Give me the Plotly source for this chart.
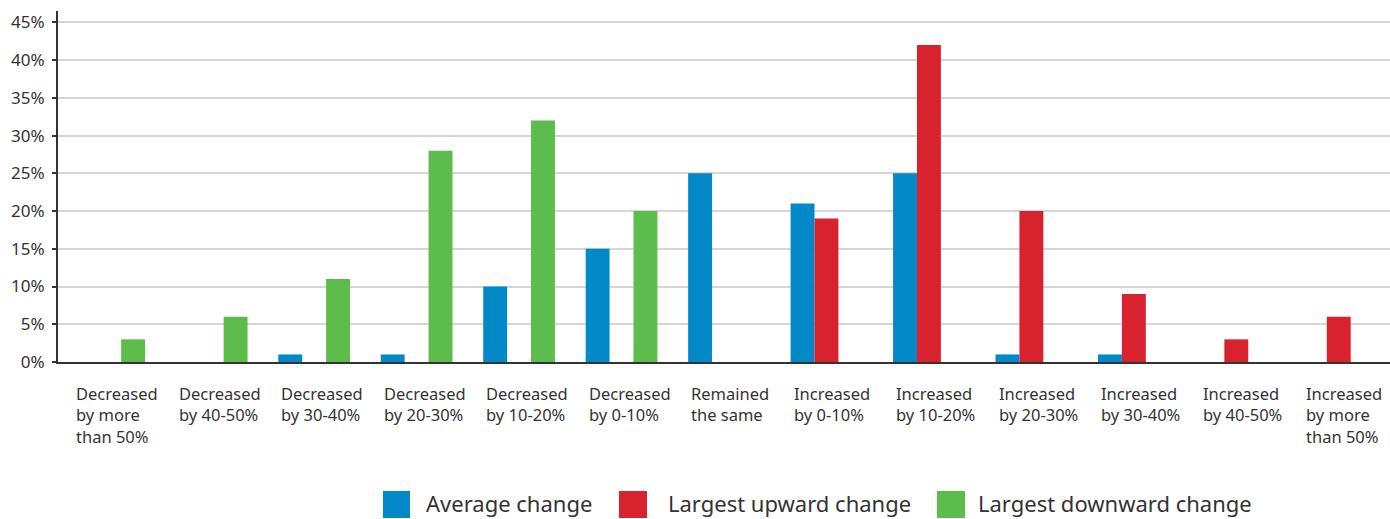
import plotly.graph_objects as go

categories = [
    "Decreased<br>by more<br>than 50%",
    "Decreased<br>by 40-50%",
    "Decreased<br>by 30-40%",
    "Decreased<br>by 20-30%",
    "Decreased<br>by 10-20%",
    "Decreased<br>by 0-10%",
    "Remained<br>the same",
    "Increased<br>by 0-10%",
    "Increased<br>by 10-20%",
    "Increased<br>by 20-30%",
    "Increased<br>by 30-40%",
    "Increased<br>by 40-50%",
    "Increased<br>by more<br>than 50%",
]
average_change = [0, 0, 1, 1, 10, 15, 25, 21, 25, 1, 1, 0, 0]
largest_upward = [0, 0, 0, 0, 0, 0, 0, 19, 42, 20, 9, 3, 6]
largest_downward = [3, 6, 11, 28, 32, 20, 0, 0, 0, 0, 0, 0, 0]
series_names = ["Average change", "Largest upward change", "Largest downward change"]
series_colors = ["#0389c8", "#d8222d", "#5cbd4c"]
y_ticks = [0, 5, 10, 15, 20, 25, 30, 35, 40, 45]

FONT = "Noto Sans"
TXT = "#333333"

x_idx = list(range(len(categories)))

fig = go.Figure()
for name, vals, col in zip(series_names, [average_change, largest_upward, largest_downward], series_colors):
    fig.add_trace(go.Bar(x=x_idx, y=vals, name=name, marker=dict(color=col, line=dict(width=0)),
                         showlegend=False))

annotations = []
for i, c in enumerate(categories):
    annotations.append(dict(x=i - 0.34, y=-0.05, xref="x", yref="paper", text=c,
                            showarrow=False, xanchor="left", yanchor="top", align="left",
                            font=dict(family=FONT, size=16.5, color=TXT)))

# manual legend with large swatches
shapes = []
legend_items = [(383, 410, 424), (619, 647, 666), (937, 965, 976)]
W, H = 1390, 351
for (x0, x1, tx), name, col in zip(legend_items, series_names, series_colors):
    px0 = (x0 - 58) / (1390 - 58)
    px1 = (x1 - 58) / (1390 - 58)
    py0 = (362 - 518) / H
    py1 = (362 - 491) / H
    shapes.append(dict(type="rect", xref="paper", yref="paper", x0=px0, x1=px1, y0=py0, y1=py1,
                       fillcolor=col, line=dict(width=0)))
    annotations.append(dict(x=(tx - 58) / (1390 - 58), y=(362 - 503) / H, xref="paper", yref="paper",
                            text=name, showarrow=False, xanchor="left", yanchor="middle",
                            font=dict(family=FONT, size=22, color=TXT)))

fig.update_layout(
    width=1390, height=519,
    margin=dict(l=58, r=0, t=11, b=157),
    paper_bgcolor="white", plot_bgcolor="white",
    barmode="group", bargap=0.30, bargroupgap=0,
    font=dict(family=FONT, color=TXT),
    annotations=annotations, shapes=shapes,
    xaxis=dict(range=[-0.5, 12.5], showticklabels=False, ticks="", showgrid=False,
               showline=True, linecolor="#333333", linewidth=2, zeroline=False, fixedrange=True),
    yaxis=dict(range=[0, 46.5], tickvals=y_ticks, ticktext=[f"{v}%" for v in y_ticks],
               showgrid=True, gridcolor="#d6d6d6", gridwidth=2,
               showline=True, linecolor="#333333", linewidth=2, zeroline=False,
               ticks="outside", ticklen=4, tickwidth=1.5, tickcolor="#333333",
               tickfont=dict(family=FONT, size=17, color=TXT), ticklabelstandoff=4),
)

fig.write_html("out.html")
